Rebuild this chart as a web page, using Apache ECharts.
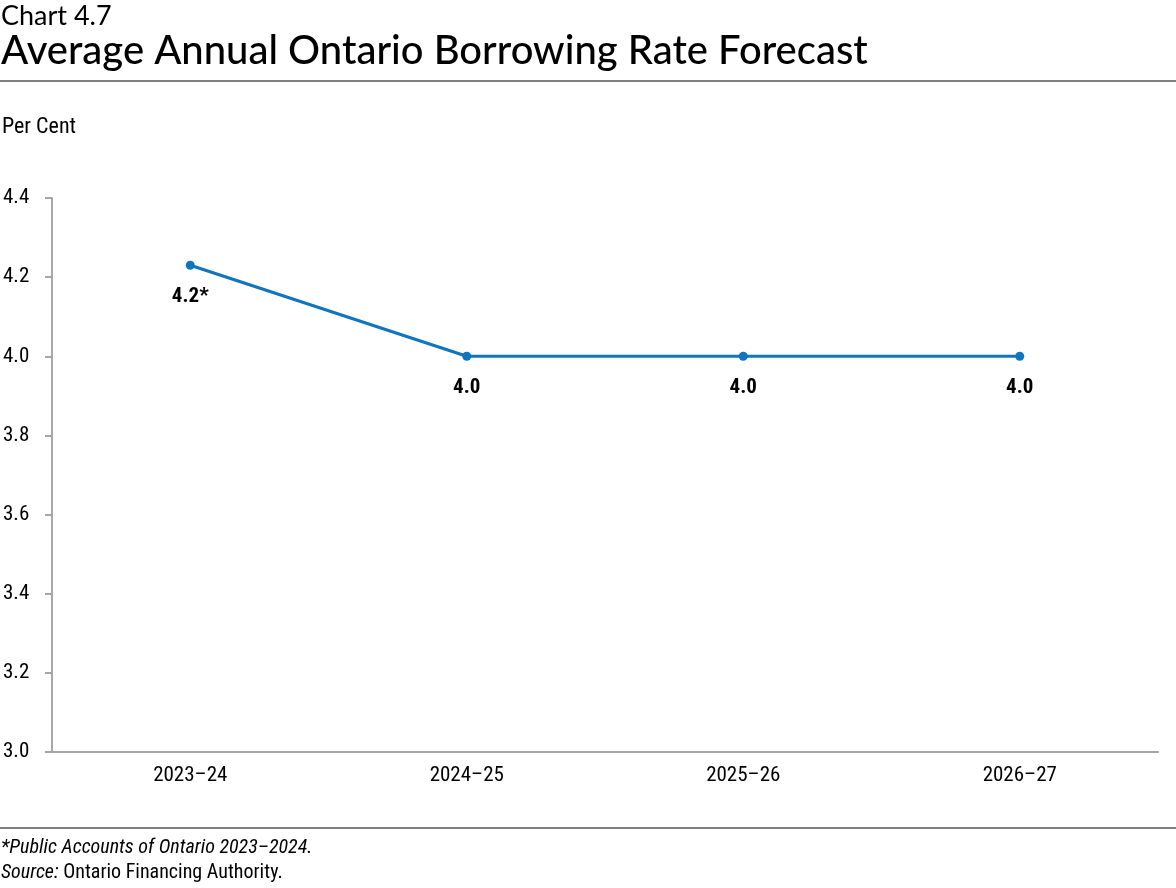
<!DOCTYPE html>
<html><head><meta charset="utf-8">
<script src="https://cdn.jsdelivr.net/npm/echarts@6/dist/echarts.min.js"></script>
<style>html,body{margin:0;padding:0;background:#fff}#c{width:1176px;height:888px}</style>
</head><body><div id="c"></div>
<script>
const categories = ['2023–24', '2024–25', '2025–26', '2026–27'];
const rates = [4.23, 4.0, 4.0, 4.0];
const rateLabels = ['4.2*', '4.0', '4.0', '4.0'];
const yTicks = [3.0, 3.2, 3.4, 3.6, 3.8, 4.0, 4.2, 4.4];

const narrow = "'Liberation Sans Narrow','Arial Narrow','Roboto Condensed',sans-serif";
const chart = echarts.init(document.getElementById('c'), null, {renderer: 'canvas'});
chart.setOption({
  animation: false,
  backgroundColor: '#fff',
  grid: {left: 52, right: 18, top: 198, bottom: 136, containLabel: false},
  xAxis: {
    type: 'category', data: categories, boundaryGap: true,
    axisLine: {lineStyle: {color: '#a6a6a6', width: 2}},
    axisTick: {alignWithLabel: true, length: 6, lineStyle: {color: '#a6a6a6', width: 2}},
    axisLabel: {color: '#000', fontFamily: narrow, fontSize: 21, margin: 13}
  },
  yAxis: {
    type: 'value', min: yTicks[0], max: yTicks[yTicks.length - 1], interval: 0.2,
    axisLine: {show: true, lineStyle: {color: '#a6a6a6', width: 2}},
    axisTick: {show: true, length: 7, lineStyle: {color: '#a6a6a6', width: 2}},
    splitLine: {show: false},
    axisLabel: {color: '#000', fontFamily: narrow, fontSize: 21, margin: 49, align: 'left',
      formatter: v => v.toFixed(1)}
  },
  series: [{
    type: 'line', data: rates,
    lineStyle: {color: '#0f75bc', width: 3},
    itemStyle: {color: '#0f75bc'},
    symbol: 'circle', symbolSize: 9,
    label: {show: true, position: 'bottom', distance: 16, color: '#000',
      fontFamily: narrow, fontWeight: 'bold', fontSize: 21,
      formatter: p => rateLabels[p.dataIndex]}
  }],
  graphic: [
    {type: 'text', left: 1, top: 3, style: {text: 'Chart 4.7', font: "27px 'Lato','Open Sans',sans-serif", fill: '#000'}},
    {type: 'text', left: 1, top: 31, style: {text: 'Average Annual Ontario Borrowing Rate Forecast', font: "500 40px 'Lato','Open Sans',sans-serif", fill: '#000'}},
    {type: 'line', shape: {x1: 0, y1: 81, x2: 1176, y2: 81}, style: {stroke: '#000', lineWidth: 1.2}},
    {type: 'text', left: 2, top: 116, style: {text: 'Per Cent', font: "22px " + narrow, fill: '#000'}},
    {type: 'line', shape: {x1: 0, y1: 828, x2: 1176, y2: 828}, style: {stroke: '#000', lineWidth: 1.2}},
    {type: 'text', left: 1, top: 838, style: {text: '*Public Accounts of Ontario 2023–2024.', font: "italic 20px " + narrow, fill: '#000'}},
    {type: 'text', left: 1, top: 863, style: {
      text: '{i|Source:} Ontario Financing Authority.',
      font: "20px " + narrow, fill: '#000',
      rich: {i: {fontStyle: 'italic', fontFamily: narrow, fontSize: 20}}}}
  ]
});
</script></body></html>
